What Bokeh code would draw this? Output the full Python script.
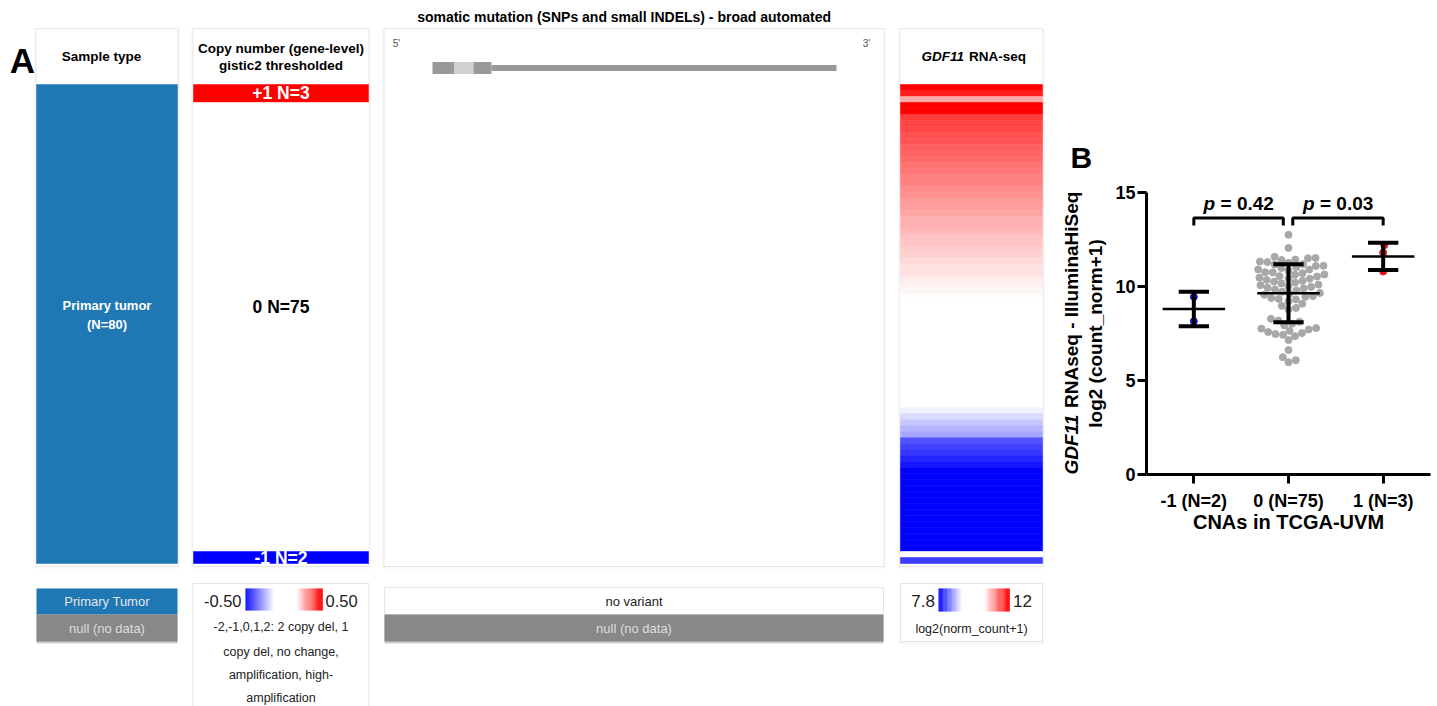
import numpy as np
from bokeh.plotting import figure
from bokeh.layouts import row
from bokeh.models import Range1d, Label, FixedTicker
from bokeh.embed import file_html
from bokeh.resources import INLINE

FONT = "Liberation Sans"

# ---------------- data ----------------
sample_types = ["Primary Tumor"]
sample_type_n = [80]

cn_levels = [1, 0, -1]            # gistic2 thresholded, top to bottom
cn_n = [3, 75, 2]
cn_text = ["+1 N=3", "0 N=75", "-1 N=2"]

# GDF11 RNA-seq log2(norm_count+1), per CN group, sorted high -> low (heatmap order)
gdf11_cn_pos = [12.2, 11.8, 10.8]
gdf11_cn_zero = [12.75, 12.05,
                 11.58, 11.52, 11.50, 11.43, 11.41, 11.33, 11.30, 11.26, 11.19, 11.17,
                 11.10, 11.09, 11.02, 10.98, 10.91, 10.90, 10.84, 10.76, 10.75, 10.71,
                 10.64, 10.62, 10.55, 10.53, 10.47, 10.42, 10.41, 10.35, 10.30, 10.26, 10.21,
                 10.16, 10.10, 10.07, 10.01, 9.98, 9.93, 9.90, 9.84, 9.79, 9.72,
                 9.66, 9.61, 9.56, 9.49, 9.45, 9.39, 9.34, 9.31,
                 9.21, 9.08, 8.97, 8.86, 8.78,
                 8.28, 8.19, 8.12, 8.02, 7.93,
                 7.79, 7.76, 7.71, 7.64, 7.58, 7.52, 7.47, 7.43, 7.36, 7.15,
                 6.62, 6.24, 6.08, 5.97]
gdf11_cn_neg = [9.45, 8.15]

cn_legend_lo, cn_legend_hi = "-0.50", "0.50"
rna_min, rna_white_lo, rna_white_hi, rna_max = 7.8, 9.3, 10.2, 12.0
rna_legend_lo, rna_legend_hi = "7.8", "12"

cna_groups = ["-1 (N=2)", "0 (N=75)", "1 (N=3)"]
p_values = ["0.42", "0.03"]
b_yticks = [0, 5, 10, 15]

# ---------------- helpers ----------------
BLUE, WHITE, RED = (0, 0, 255), (255, 255, 255), (255, 0, 0)


def mix(c1, c2, t):
    return "#%02x%02x%02x" % tuple(int(round(a + (b - a) * t)) for a, b in zip(c1, c2))


def rna_color(v):
    if v >= rna_white_hi:
        return mix(WHITE, RED, min(1.0, (v - rna_white_hi) / (rna_max - rna_white_hi)))
    if v <= rna_white_lo:
        return mix(WHITE, BLUE, min(1.0, (rna_white_lo - v) / (rna_white_lo - rna_min)))
    return "#ffffff"


def lab(p, x, y, s, size, color="#000000", style="normal", align="center", baseline="middle", angle=0.0):
    p.add_layout(Label(x=x, y=y, text=s, text_font=FONT, text_font_size=f"{size}px",
                       text_color=color, text_font_style=style, text_align=align,
                       text_baseline=baseline, angle=angle))


def no_align(p):
    try:
        p.frame_align = False
    except Exception:
        pass


# ================= Panel A (pixel space) =================
WA = 1110
pa = figure(width=WA, height=706, x_range=Range1d(0, WA), y_range=Range1d(706, 0),
            output_backend="svg", toolbar_location=None, min_border=0,
            x_axis_location=None, y_axis_location=None, outline_line_color=None,
            background_fill_color="white", border_fill_color="white")
pa.grid.visible = False
no_align(pa)

TOP, BOT = 84, 563
COL_S, COL_C, COL_M, COL_R = (36, 177), (193, 368), (384, 883), (900, 1042)

# cards
for (l, r) in [COL_S, COL_C, COL_M, COL_R]:
    pa.quad(left=l - 1.5, right=r + 1.5, top=29, bottom=567.5, fill_color=None,
            line_color="#f3f3f3", line_width=1)
    pa.quad(left=l - 0.5, right=r + 0.5, top=28, bottom=566, fill_color="white",
            line_color="#e6e6e6", line_width=1)

lab(pa, 22, 60, "A", 35, style="bold")
lab(pa, 625.5, 16, "somatic mutation (SNPs and small INDELs)  - broad automated", 14, style="bold")
lab(pa, 101, 56, "Sample type", 13.5, style="bold")
lab(pa, 280.5, 48, "Copy number (gene-level)", 13.5, style="bold")
lab(pa, 280.5, 65, "gistic2 thresholded", 13.5, style="bold")
lab(pa, 921, 56, "GDF11", 13.5, style="bold italic", align="left")
lab(pa, 921 + 47.5, 56, "RNA-seq", 13.5, style="bold", align="left")
lab(pa, 396, 43, "5'", 10, color="#555555")
lab(pa, 866, 43, "3'", 10, color="#555555")

n_samples = sum(sample_type_n)
rh = (BOT - TOP) / n_samples

# sample type column
start = 0
for st, n in zip(sample_types, sample_type_n):
    pa.quad(left=COL_S[0], right=COL_S[1], top=TOP + start * rh, bottom=TOP + (start + n) * rh,
            fill_color="#1f77b4", line_color="#1f77b4", line_width=0.5)
    start += n
lab(pa, 106.5, 305, "Primary tumor", 13, color="white", style="bold")
lab(pa, 106.5, 324, f"(N={n_samples})", 13, color="white", style="bold")

# copy number column
cn_fill = {1: "#ff0000", 0: "#ffffff", -1: "#0000ff"}
cn_tcol = {1: "white", 0: "black", -1: "white"}
start = 0
for lvl, n, t in zip(cn_levels, cn_n, cn_text):
    y0, y1 = TOP + start * rh, TOP + (start + n) * rh
    pa.quad(left=COL_C[0], right=COL_C[1], top=y0, bottom=y1,
            fill_color=cn_fill[lvl], line_color=cn_fill[lvl], line_width=0.5)
    ty = (y0 + y1) / 2 if n < 10 else 306
    lab(pa, 280.5, ty, t, 17.5, color=cn_tcol[lvl], style="bold")
    start += n

# gene model in mutation column
pa.quad(left=491, right=836, top=64.5, bottom=70.5, fill_color="#999999", line_color=None)
pa.quad(left=[432, 454, 473], right=[454, 473, 491], top=61.5, bottom=73.5,
        fill_color=["#999999", "#d0d0d0", "#999999"], line_color=None)

# RNA heatmap
rna_vals = gdf11_cn_pos + gdf11_cn_zero + gdf11_cn_neg
idx = np.arange(len(rna_vals))
cols = [rna_color(v) for v in rna_vals]
pa.quad(left=COL_R[0], right=COL_R[1], top=TOP + idx * rh, bottom=TOP + (idx + 1) * rh,
        fill_color=cols, line_color=cols, line_width=0.6)

# ---- legends ----
# sample type
pa.quad(left=COL_S[0], right=COL_S[1], top=614, bottom=643, fill_color="#cccccc", line_color=None)
pa.quad(left=COL_S[0], right=COL_S[1], top=588, bottom=614, fill_color="#1f77b4", line_color=None)
pa.quad(left=COL_S[0], right=COL_S[1], top=614, bottom=641, fill_color="#888888", line_color=None)
lab(pa, 106.5, 601, "Primary Tumor", 13, color="#e6e6e6")
lab(pa, 106.5, 628, "null (no data)", 13, color="#dddddd")

# copy number legend card
pa.quad(left=COL_C[0] - 0.5, right=COL_C[1] + 0.5, top=583, bottom=720, fill_color="white",
        line_color="#e6e6e6")
gx = np.linspace(0, 1, 29)
pa.quad(left=245 + gx[:-1] * 28, right=245 + gx[1:] * 28 + 0.3, top=588, bottom=610,
        fill_color=[mix(BLUE, WHITE, t) for t in gx[:-1]], line_color=None)
pa.quad(left=296 + gx[:-1] * 26, right=296 + gx[1:] * 26 + 0.3, top=588, bottom=610,
        fill_color=[mix(WHITE, RED, t) for t in gx[1:]], line_color=None)
lab(pa, 241, 600, cn_legend_lo, 16.5, color="#222222", align="right")
lab(pa, 325, 600, cn_legend_hi, 16.5, color="#222222", align="left")
for yy, s in zip([626, 651, 674, 697], ["-2,-1,0,1,2: 2 copy del, 1", "copy del, no change,",
                                        "amplification, high-", "amplification"]):
    lab(pa, 280.5, yy, s, 12.5, color="#222222")

# mutation legend
pa.quad(left=COL_M[0], right=COL_M[1], top=614, bottom=643, fill_color="#cccccc", line_color=None)
pa.quad(left=COL_M[0], right=COL_M[1], top=587, bottom=614, fill_color="white", line_color="#e4e4e4")
pa.quad(left=COL_M[0], right=COL_M[1], top=614, bottom=641, fill_color="#888888", line_color=None)
lab(pa, 633.5, 601, "no variant", 13, color="#222222")
lab(pa, 633.5, 628, "null (no data)", 13, color="#dddddd")

# RNA legend
pa.quad(left=COL_R[0] - 0.5, right=COL_R[1] + 0.5, top=584, bottom=642.5, fill_color=None,
        line_color="#f0f0f0")
pa.quad(left=COL_R[0], right=COL_R[1], top=583, bottom=641, fill_color="white", line_color="#e4e4e4")
pa.quad(left=938 + gx[:-1] * 23, right=938 + gx[1:] * 23 + 0.3, top=588, bottom=611,
        fill_color=[mix(BLUE, WHITE, t) for t in gx[:-1]], line_color=None)
pa.quad(left=984 + gx[:-1] * 25, right=984 + gx[1:] * 25 + 0.3, top=588, bottom=611,
        fill_color=[mix(WHITE, RED, t) for t in gx[1:]], line_color=None)
lab(pa, 934.5, 600, rna_legend_lo, 17, color="#222222", align="right")
lab(pa, 1012.5, 600, rna_legend_hi, 17, color="#222222", align="left")
lab(pa, 971, 628, "log2(norm_count+1)", 12.5, color="#222222")

# panel B letter and y-axis title (left of panel B's axis)
lab(pa, 1070, 157, "B", 30, style="bold", align="left")
lab(pa, 1070.5, 474, "GDF11", 19, style="bold italic", align="left", angle=np.pi / 2)
lab(pa, 1070.5, 474 - 66.5, "RNAseq - IlluminaHiSeq", 19, style="bold", align="left", angle=np.pi / 2)
lab(pa, 1094.5, 333, "log2 (count_norm+1)", 19, style="bold", align="center", angle=np.pi / 2)

# ================= Panel B =================
WB = 1437 - WA
pb = figure(width=WB, height=706, x_range=Range1d(-0.5, 2.5), y_range=Range1d(0, 15),
            output_backend="svg", toolbar_location=None,
            min_border_left=36, min_border_right=7, min_border_top=192, min_border_bottom=232,
            outline_line_color=None, background_fill_color="white", border_fill_color="white")
pb.grid.visible = False
no_align(pb)

XPX = 284 / 3.0   # px per x unit
YPX = 282 / 15.0  # px per y unit

yax = pb.yaxis[0]
yax.ticker = FixedTicker(ticks=b_yticks)
xax = pb.xaxis[0]
xax.ticker = FixedTicker(ticks=[0, 1, 2])
xax.major_label_overrides = {i: g for i, g in enumerate(cna_groups)}
for ax in (xax, yax):
    ax.axis_line_width = 3
    ax.axis_line_color = "black"
    ax.major_tick_line_width = 3
    ax.major_tick_line_color = "black"
    ax.major_tick_out = 9
    ax.major_tick_in = 0
    ax.minor_tick_line_color = None
    ax.major_label_text_font = FONT
    ax.major_label_text_font_size = "18px"
    ax.major_label_text_font_style = "bold"
    ax.major_label_text_color = "black"
yax.major_label_standoff = 2
xax.major_label_standoff = 7
xax.axis_label = "CNAs in TCGA-UVM"
xax.axis_label_text_font = FONT
xax.axis_label_text_font_size = "20px"
xax.axis_label_text_font_style = "bold"
xax.axis_label_text_color = "black"
xax.axis_label_standoff = -3


def swarm(vals, center, d):
    placed = []
    xs = []
    for v in vals:
        y = v * YPX
        cands = [0.0]
        for (px, py) in placed:
            dy = abs(py - y)
            if dy < d:
                dx = (d * d - dy * dy) ** 0.5
                cands += [px + dx, px - dx]
        cands.sort(key=abs)
        chosen = 0.0
        for c in cands:
            if all((c - px) ** 2 + (y - py) ** 2 >= d * d - 1e-6 for px, py in placed):
                chosen = c
                break
        placed.append((chosen, y))
        xs.append(center + chosen / XPX)
    return xs


groups = [gdf11_cn_neg, gdf11_cn_zero, gdf11_cn_pos]
gcolors = ["#1a1acc", "#a8a8a8", "#e8141a"]
for i, (g, c) in enumerate(zip(groups, gcolors)):
    vals = sorted(g)
    xs = swarm(vals, i, 7.6)
    pb.scatter(xs, vals, size=7, fill_color=c, line_color=c)

cats = np.arange(3)
means = np.array([np.mean(g) for g in groups])
sds = np.array([np.std(g, ddof=1) for g in groups])
pb.segment(x0=cats, x1=cats, y0=means - sds, y1=means + sds, line_width=4, line_color="black")
pb.segment(x0=cats - 0.16, x1=cats + 0.16, y0=means + sds, y1=means + sds, line_width=4, line_color="black")
pb.segment(x0=cats - 0.16, x1=cats + 0.16, y0=means - sds, y1=means - sds, line_width=4, line_color="black")
pb.segment(x0=cats - 0.33, x1=cats + 0.33, y0=means, y1=means, line_width=2.5, line_color="black")

# significance brackets
br_top, br_leg = 13.65, 13.24
brackets = [(0.0, 0.945), (1.045, 2.0)]
pb.multi_line(xs=[[a, a, b, b] for a, b in brackets],
              ys=[[br_leg, br_top, br_top, br_leg] for _ in brackets],
              line_width=3, line_color="black")
for (a, b), pv in zip(brackets, p_values):
    cx = (a + b) / 2
    x0 = cx - 35 / XPX
    lab(pb, x0, 14.41, "p", 19, style="bold italic", align="left")
    lab(pb, x0 + 17 / XPX, 14.41, "= " + pv, 19, style="bold", align="left")

layout = row(pa, pb)
open("out.html", "w").write(file_html(layout, INLINE))
